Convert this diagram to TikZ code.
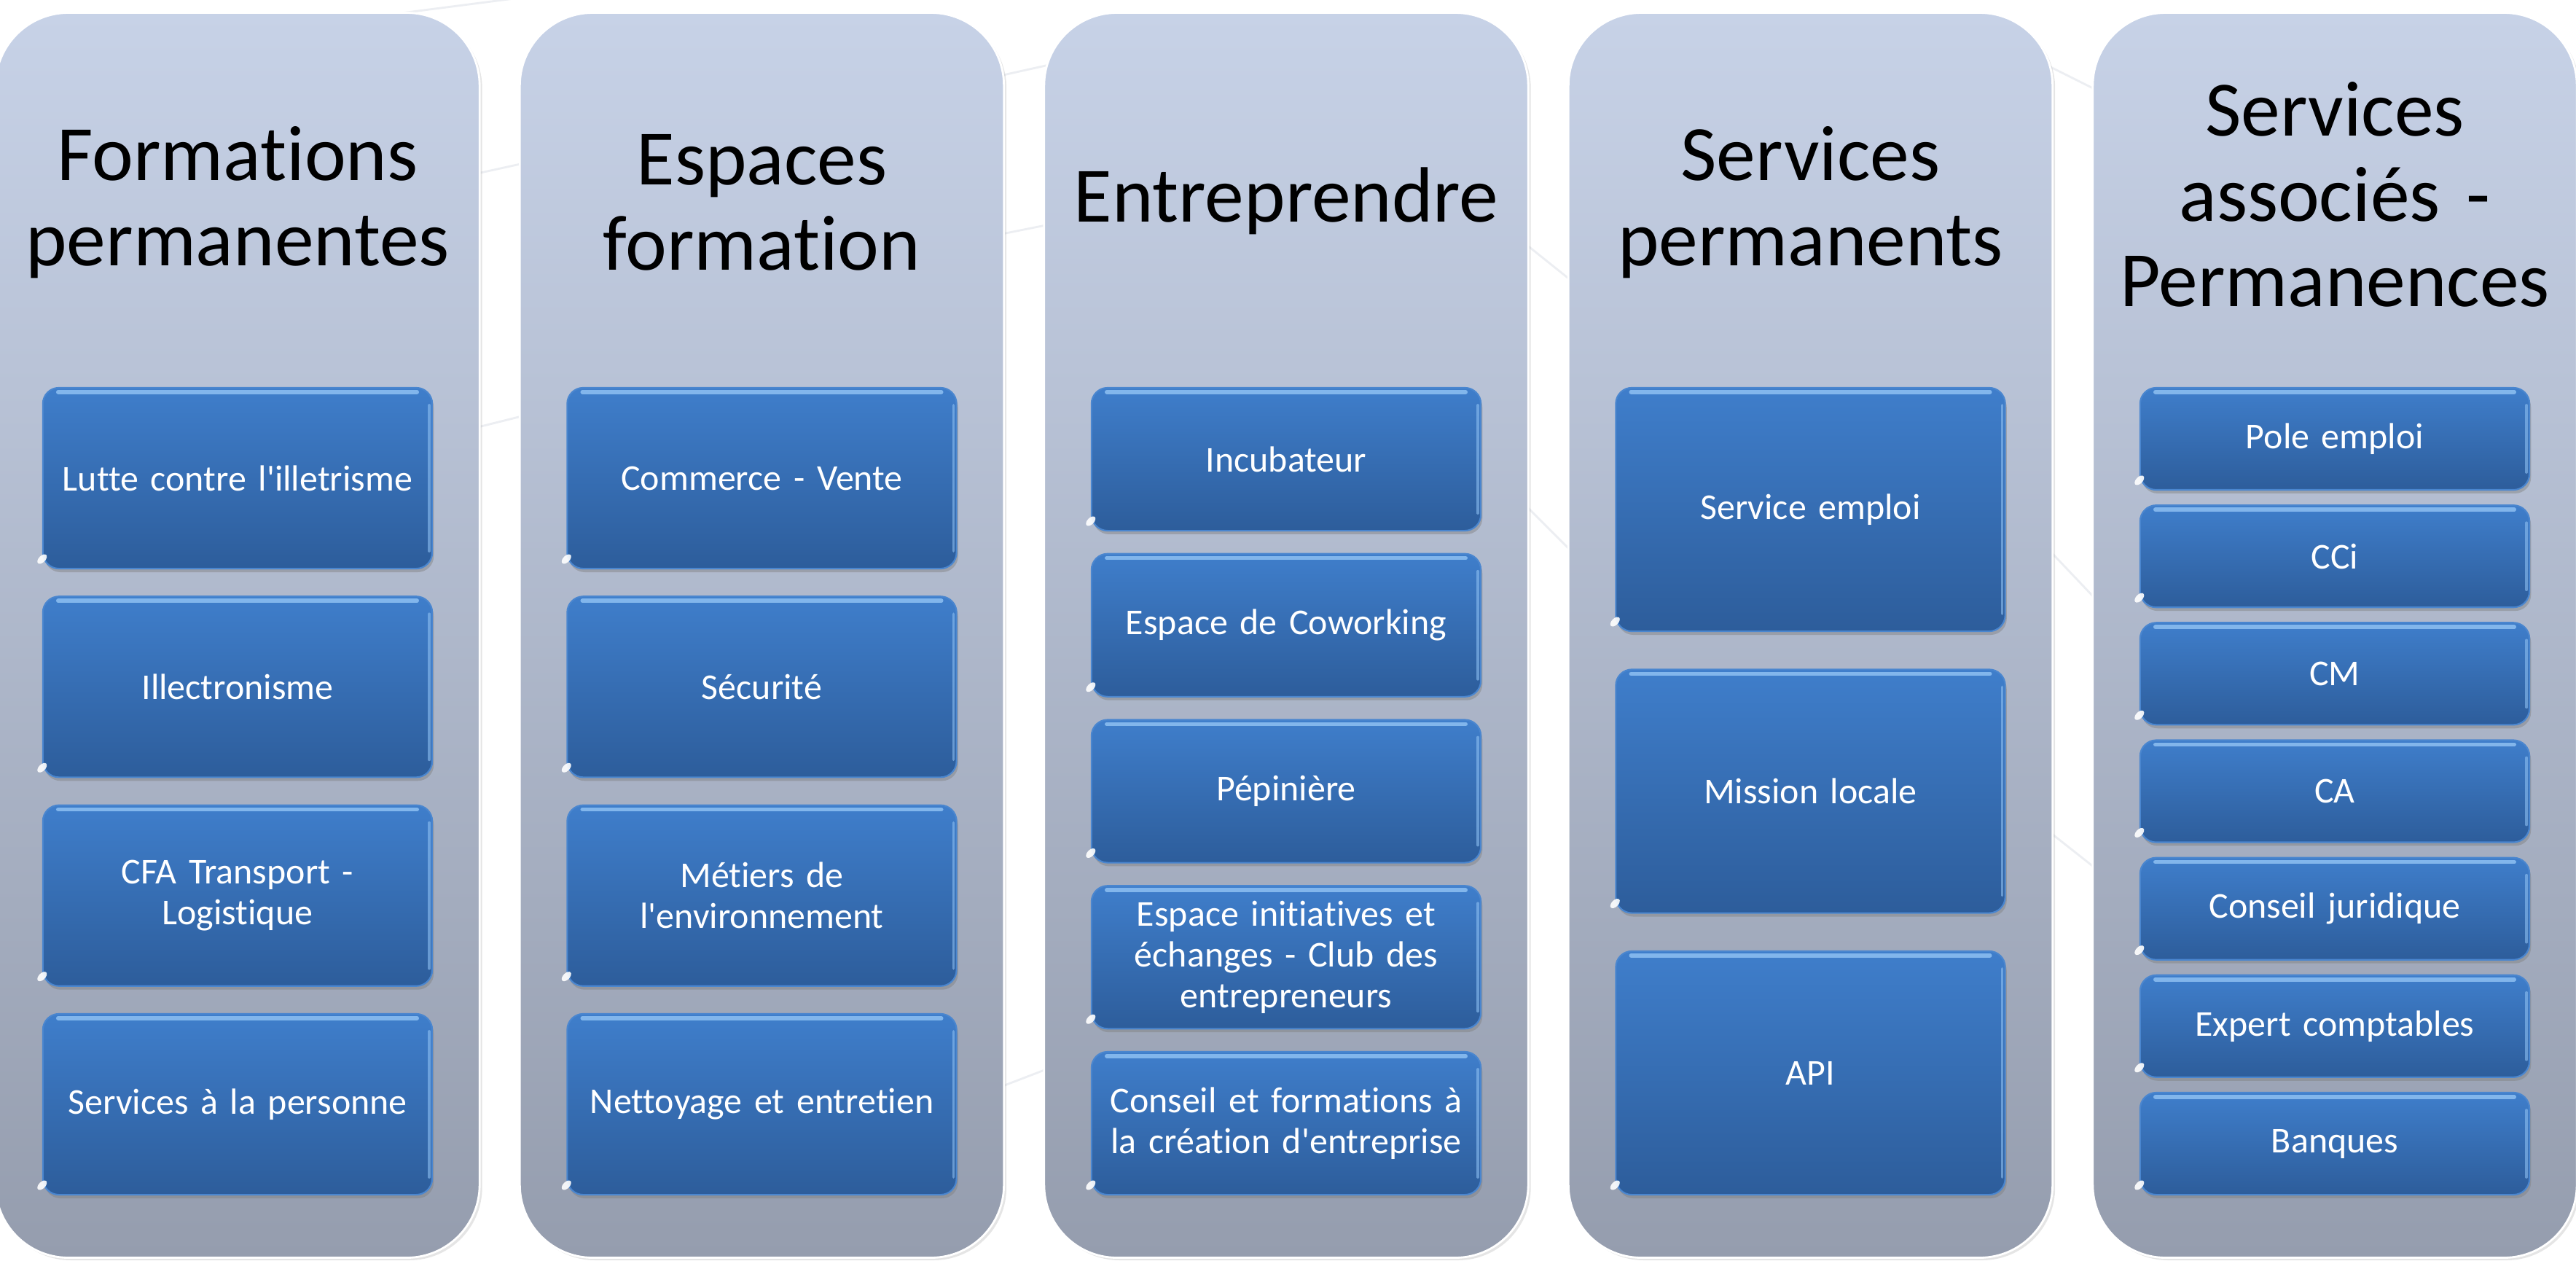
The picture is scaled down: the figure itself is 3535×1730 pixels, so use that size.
\documentclass[tikz,border=0pt]{standalone}
\usepackage{fontspec}
\setmainfont{Carlito}[Ligatures={NoCommon}]
\usetikzlibrary{shadows}
\definecolor{paneltop}{HTML}{C7D2E7}
\definecolor{panelbot}{HTML}{959DAE}
\definecolor{boxtop}{HTML}{3F7ECB}
\definecolor{boxbot}{HTML}{2D5D9B}
\definecolor{boxedge}{HTML}{4A86CF}
\definecolor{hilite}{HTML}{8EC0F2}
\definecolor{bgline}{HTML}{ECEEF2}
\tikzset{
  panel/.style={rectangle, rounded corners=1cm, minimum width=6.64cm, minimum height=17.07cm,
    top color=paneltop, bottom color=panelbot, draw=white, line width=0.8pt,
    drop shadow={opacity=0.2, shadow xshift=1pt, shadow yshift=-1pt}},
  ptitle/.style={text width=6.4cm, align=center, font=\fontsize{30.6}{33.3}\selectfont, text=black, inner sep=0pt},
  item/.style={rectangle, rounded corners=0.22cm, minimum width=5.34cm, text width=5.2cm, align=center,
    top color=boxtop, bottom color=boxbot, draw=boxedge, line width=0.6pt, text=white,
    font=\fontsize{14.2}{15.9}\selectfont, inner sep=0pt,
    drop shadow={opacity=0.45, shadow xshift=0.6pt, shadow yshift=-1.4pt}},
  bgl/.style={draw=bgline, line width=0.8pt}
}
\newcommand\itembox[5]{%
  \node[item, minimum height=#4] (#1) at (#2,#3) {#5};
  \draw[hilite, line width=1.6pt, line cap=round, opacity=0.85]
    ([xshift=0.22cm,yshift=-0.07cm]#1.north west) -- ([xshift=-0.22cm,yshift=-0.07cm]#1.north east);
  \draw[hilite, line width=1pt, line cap=round, opacity=0.6]
    ([xshift=-0.05cm,yshift=-0.25cm]#1.north east) -- ([xshift=-0.05cm,yshift=0.25cm]#1.south east);
  \fill[white, opacity=0.9, rotate around={45:([xshift=0.1cm,yshift=0.1cm]#1.south west)}]
    ([xshift=0.1cm,yshift=0.1cm]#1.south west) ellipse (0.08cm and 0.045cm);
}
\begin{document}
\begin{tikzpicture}[x=0.01cm,y=-0.01cm]
\useasboundingbox (0,0) rectangle (3535,1730);
\fill[white] (0,0) rectangle (3535,1730);
% faint background lines
\draw[bgl] (380,40) -- (1000,-40);
\draw[bgl] (600,600) -- (760,560);
\draw[bgl] (600,250) -- (760,215);
\draw[bgl] (1300,120) -- (1480,80);
\draw[bgl] (1330,330) -- (1480,300);
\draw[bgl] (2050,300) -- (2200,420);
\draw[bgl] (2050,650) -- (2200,800);
\draw[bgl] (2750,60) -- (2950,160);
\draw[bgl] (2760,700) -- (2950,900);
\draw[bgl] (2760,1100) -- (2950,1250);
\draw[bgl] (1350,1500) -- (1480,1450);
% panels
\node[panel] (p1) at (326,871.5) {};
\node[panel] (p2) at (1045.5,871.5) {};
\node[panel] (p3) at (1765,871.5) {};
\node[panel] (p4) at (2484.5,871.5) {};
\node[panel] (p5) at (3204,871.5) {};
% titles
\node[ptitle] (t1) at (326,278) {Formations\\permanentes};
\node[ptitle] (t2) at (1045.5,278) {Espaces\\formation};
\node[ptitle] (t3) at (1765,276) {Entreprendre};
\node[ptitle] (t4) at (2484.5,278) {Services\\permanents};
\node[ptitle] (t5) at (3204,267) {Services\\associés -\\Permanences};
% column 1
\itembox{a1}{326}{656}{2.48cm}{Lutte contre l\textquotesingle illetrisme}
\itembox{a2}{326}{942.3}{2.48cm}{Illectronisme}
\itembox{a3}{326}{1228.7}{2.48cm}{CFA Transport -\\Logistique}
\itembox{a4}{326}{1515}{2.48cm}{Services à la personne}
% column 2
\itembox{b1}{1045.5}{656}{2.48cm}{Commerce - Vente}
\itembox{b2}{1045.5}{942.3}{2.48cm}{Sécurité}
\itembox{b3}{1045.5}{1228.7}{2.48cm}{Métiers de\\l\textquotesingle environnement}
\itembox{b4}{1045.5}{1515}{2.48cm}{Nettoyage et entretien}
% column 3
\itembox{c1}{1765}{630}{1.96cm}{Incubateur}
\itembox{c2}{1765}{857.75}{1.96cm}{Espace de Coworking}
\itembox{c3}{1765}{1085.5}{1.96cm}{Pépinière}
\itembox{c4}{1765}{1313.25}{1.96cm}{Espace initiatives et\\échanges - Club des\\entrepreneurs}
\itembox{c5}{1765}{1541}{1.96cm}{Conseil et formations à\\la création d\textquotesingle entreprise}
% column 4
\itembox{d1}{2484.5}{699}{3.34cm}{Service emploi}
\itembox{d2}{2484.5}{1085.5}{3.34cm}{Mission locale}
\itembox{d3}{2484.5}{1472}{3.34cm}{API}
% column 5
\itembox{e1}{3204}{602}{1.40cm}{Pole emploi}
\itembox{e2}{3204}{763.2}{1.40cm}{CCi}
\itembox{e3}{3204}{924.3}{1.40cm}{CM}
\itembox{e4}{3204}{1085.5}{1.40cm}{CA}
\itembox{e5}{3204}{1246.7}{1.40cm}{Conseil juridique}
\itembox{e6}{3204}{1407.8}{1.40cm}{Expert comptables}
\itembox{e7}{3204}{1569}{1.40cm}{Banques}
\end{tikzpicture}
\end{document}
